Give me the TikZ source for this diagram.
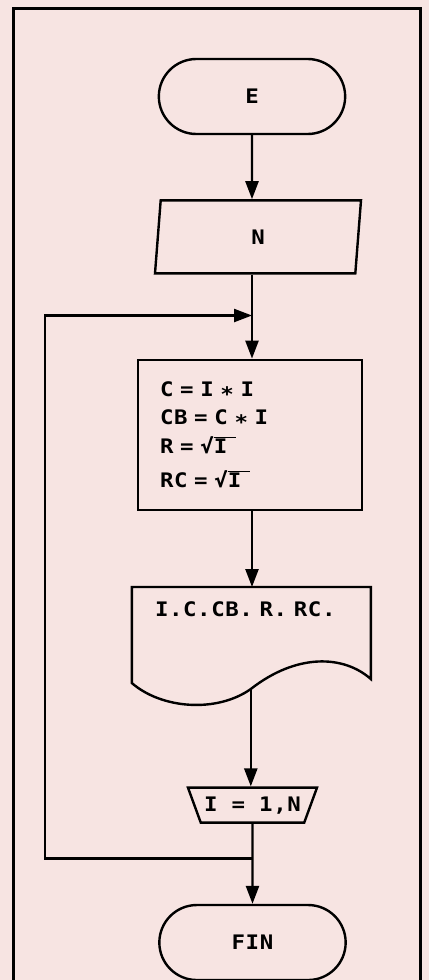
\documentclass[tikz,border=0pt]{standalone}
\usepackage{fontspec}
\newfontfamily\flowfont{DejaVu Sans Mono Bold}[FakeStretch=1.12, LetterSpace=3]
\usepackage{xcolor}
\usetikzlibrary{positioning,arrows.meta,shapes.geometric,shapes.misc}

\definecolor{paper}{RGB}{247,228,226}
\newcommand\rootI{√\rlap{\rule[0.78em]{1.1em}{0.07em}}I}
\newcommand\mul{\raisebox{-0.25em}{*}}

\begin{document}
\begin{tikzpicture}[
    x=1pt, y=-1pt,
    line width=2.4pt,
    font=\flowfont\fontsize{20}{22}\selectfont,
    every node/.style={align=center},
    term/.style={draw, rounded rectangle, minimum width=193pt, minimum height=75pt},
    io/.style={draw, trapezium, trapezium left angle=75, trapezium right angle=105,
               trapezium stretches body, minimum width=206pt, minimum height=73pt},
    box/.style={draw, minimum width=224pt, minimum height=150pt, text width=180pt,
                inner xsep=22pt, align=left},
    docbox/.style={minimum width=239pt, minimum height=42pt, text width=195pt,
                   inner xsep=22pt, align=left},
    loopbox/.style={draw, trapezium, shape border rotate=180, trapezium angle=62,
                    trapezium stretches body, minimum width=125pt, minimum height=35pt},
    arr/.style={-{Triangle[length=18pt, width=13pt]}},
]

% Page and frame
\fill[paper] (0,0) rectangle (429,980);
\useasboundingbox (0,0) rectangle (429,980);
\draw[line width=3pt] (13.5,980) -- (13.5,8.5) -- (420,8.5) -- (420,980);

% Flow steps
\node[term] (start) at (252,96.5) {E};
\node[io, below=64pt of start, xshift=6pt] (read) {N};
\node[box, below=84pt of read, xshift=-8pt] (calc)
    {C = I \mul{} I\\[6pt]CB = C \mul{} I\\[6pt]R = \rootI\\[12pt]RC = \rootI};
\node[docbox, below=76pt of calc, xshift=2.5pt] (print) {I.C.CB. R. RC.};
\node[loopbox, below=155pt of print] (loop) {I = 1,N};
\node[term, below=80pt of loop] (stop) {FIN};

% Document outline (wavy bottom)
\begin{scope}[shift={(print.north west)}]
  \draw (0,0) -- (239,0) -- (239,92)
        .. controls (212,68) and (165,66) .. (119,102)
        .. controls (85,126) and (30,122) .. (0,96) -- cycle;
  \coordinate (printout) at (119,102);
\end{scope}

% Arrows
\draw[arr] (start) -- (start |- read.north);
\draw[arr] (start |- read.south) -- (start |- calc.north);
\draw[arr] (start |- calc.south) -- (start |- print.north);
\draw[arr] (printout) -- (printout |- loop.north);
\draw[arr] (loop) -- (loop |- stop.north);

% Loop back
\coordinate (back) at (45,858.5);
\coordinate (entry) at (45,315.5);
\draw[arr] (loop.south |- back) -- (back) -- (entry) -- (entry -| start);

\end{tikzpicture}
\end{document}
